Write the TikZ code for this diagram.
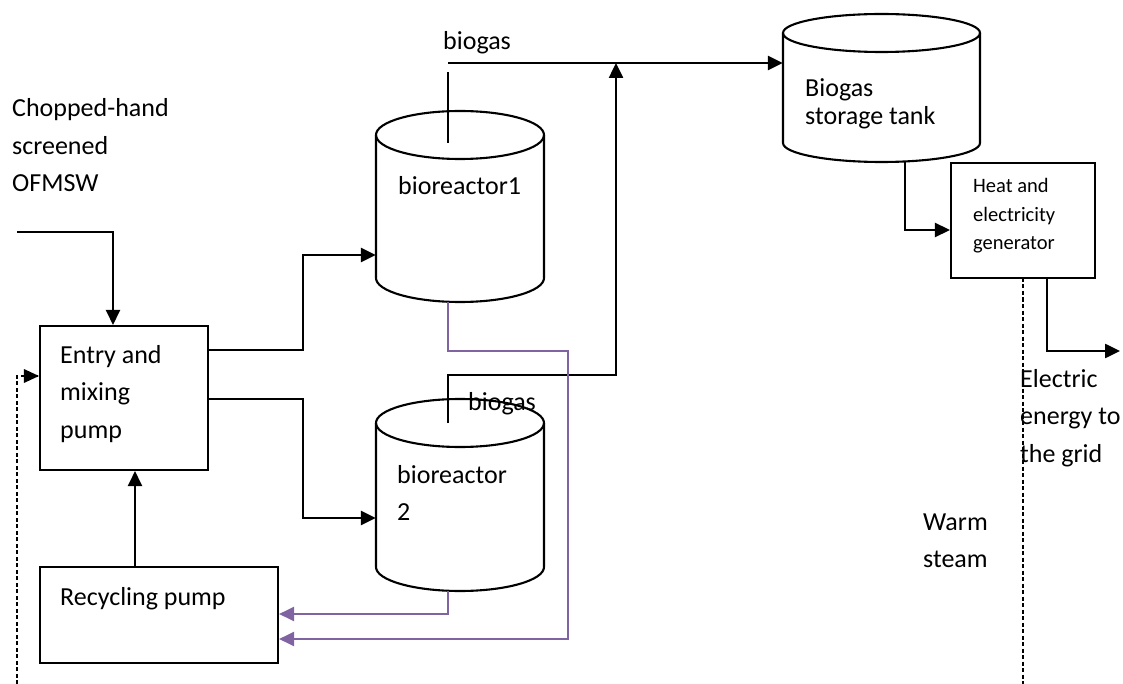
\documentclass[tikz,border=0pt]{standalone}
\usepackage{fontspec}
\setmainfont{Carlito}
\usetikzlibrary{arrows.meta,calc}

\definecolor{recycle}{HTML}{8064A2}

% cylinder: name, centre x, top-ellipse centre y, side end y, x radius, y radius
\newcommand{\tankshape}[6]{%
  \draw[outline] (#2-#5,#3) -- (#2-#5,#4)
      arc[start angle=180,end angle=360,x radius=#5pt,y radius=#6pt] -- (#2+#5,#3);
  \draw[outline] (#2,#3) ellipse[x radius=#5pt,y radius=#6pt];
  \node[inner sep=0,minimum width=2*#5pt,minimum height=#4pt-#3pt+2*#6pt]
    (#1) at (#2,{(#3+#4)/2}) {};
}

\begin{document}
\begin{tikzpicture}[x=1pt,y=-1pt,
  outline/.style={line width=2.1pt},
  box/.style={draw,line width=2.1pt,inner sep=0,rectangle},
  flow/.style={line width=2.5pt,-{Triangle[length=15pt,width=14pt]}},
  pipe/.style={line width=2.5pt},
  backflow/.style={line width=2.2pt,draw=recycle,-{Triangle[length=15pt,width=14pt]},color=recycle},
  steam/.style={line width=1.6pt,dash pattern=on 4pt off 2.5pt},
  txt/.style={anchor=base west,inner sep=0,font=\fontsize{26}{37.5}\selectfont},
  smalltxt/.style={anchor=base west,inner sep=0,font=\fontsize{20.5}{28.5}\selectfont}]

\useasboundingbox (0,0) rectangle (1123,684);

% ---- process units ----
\node[box,minimum width=168pt,minimum height=144pt] (entry) at (124,398) {};
\node[box,minimum width=238pt,minimum height=96pt] (recycle) at (159,615) {};
\node[box,minimum width=144pt,minimum height=115pt] (heat) at (1023,220.5) {};

\tankshape{bioA}{460}{135}{278}{84}{24}
\tankshape{bioB}{460}{423}{567}{84}{24}
\tankshape{store}{881.5}{33}{143}{98.5}{19}

% ---- labels ----
\node[txt] (feedlbl) at (12,117)
  {\begin{tabular}[t]{@{}l@{}}Chopped-hand\\screened\\OFMSW\end{tabular}};
\node[txt] (entrylbl) at (60,363)
  {\begin{tabular}[t]{@{}l@{}}Entry and\\mixing\\pump\end{tabular}};
\node[txt] (recyclelbl) at (60,605) {Recycling pump};
\node[txt] (bioAlbl) at (398,195) {bioreactor1};
\node[txt] (bioBlbl) at (397,483)
  {\begin{tabular}[t]{@{}l@{}}bioreactor\\2\end{tabular}};
\node[txt] (gasA) at (443,50) {biogas};
\node[txt] (gasB) at (468,410) {biogas};
\node[txt,font=\fontsize{26}{28}\selectfont] (storelbl) at (805,97)
  {\begin{tabular}[t]{@{}l@{}}Biogas\\storage tank\end{tabular}};
\node[smalltxt] (heatlbl) at (973,193)
  {\begin{tabular}[t]{@{}l@{}}Heat and\\electricity\\generator\end{tabular}};
\node[txt] (gridlbl) at (1020,387)
  {\begin{tabular}[t]{@{}l@{}}Electric\\energy to\\the grid\end{tabular}};
\node[txt] (steamlbl) at (923,530)
  {\begin{tabular}[t]{@{}l@{}}Warm\\steam\end{tabular}};

% ---- free ends ----
\coordinate (feedin) at (17,232);
\coordinate (gridout) at (1120,351);
\coordinate (steamtop) at (1023,278);
\coordinate (steamend) at (1023,684);
\coordinate (loopend) at (17,684);

% ---- feed and distribution ----
\draw[flow] (feedin) -| (113,0 |- entry.north);
\draw[flow] (entry.east |- 0,350) -- (303,350) |- (bioA.west |- 0,255);
\draw[flow] (entry.east |- 0,399) -- (303,399) |- (bioB.west |- 0,518);
\draw[flow] (recycle.north -| 135,0) -- (entry.south -| 135,0);

% ---- biogas collection ----
\draw[pipe] (448,143) -- (448,72);
\draw[flow] (448,63) -- (store.west |- 0,63);
\draw[flow] (448,423) -- (448,375) -- (616,375) -- (616,63);

% ---- storage to generator and outputs ----
\draw[flow] (905,162) -- (905,230) -- (heat.west |- 0,230);
\draw[flow] (heat.south -| 1047,0) -- (1047,351) -- (gridout);
\draw[steam] (steamtop) -- (steamend);
\draw[steam] (loopend) -- (17,376) -- (entry.west |- 0,376);
\fill (entry.west |- 0,376) -- ++(-15,-7) -- ++(0,14) -- cycle;

% ---- digestate recirculation ----
\draw[backflow] (448,302) -- (448,351) -- (568,351) -- (568,639) -- (recycle.east |- 0,639);
\draw[backflow] (448,591) -- (448,614) -- (recycle.east |- 0,614);

\end{tikzpicture}
\end{document}
